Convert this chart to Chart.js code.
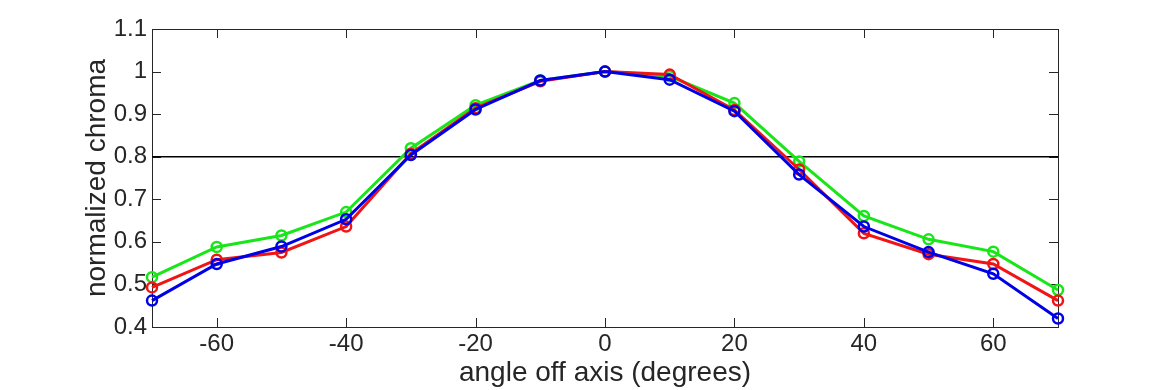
<!DOCTYPE html>
<html>
<head>
<meta charset="utf-8">
<script src="https://cdn.jsdelivr.net/npm/chart.js@4/dist/chart.umd.min.js"></script>
<style>
  html, body { margin: 0; padding: 0; background: #fff; }
  #wrap { width: 1170px; height: 390px; }
</style>
</head>
<body>
<div id="wrap"><canvas id="c" width="1170" height="390"></canvas></div>
<script>
const angles = [-70, -60, -50, -40, -30, -20, -10, 0, 10, 20, 30, 40, 50, 60, 70];
const redVals   = [0.493, 0.558, 0.575, 0.636, 0.807, 0.914, 0.977, 1.0, 0.993, 0.910, 0.770, 0.620, 0.571, 0.548, 0.462];
const greenVals = [0.517, 0.588, 0.615, 0.670, 0.820, 0.921, 0.979, 1.0, 0.989, 0.926, 0.789, 0.661, 0.606, 0.577, 0.487];
const blueVals  = [0.462, 0.548, 0.589, 0.653, 0.804, 0.911, 0.979, 1.0, 0.981, 0.907, 0.758, 0.636, 0.576, 0.525, 0.420];
const threshold = 0.8;
const xTicks = [-60, -40, -20, 0, 20, 40, 60];
const yTicks = [0.4, 0.5, 0.6, 0.7, 0.8, 0.9, 1, 1.1];

const FONT = "'Liberation Sans', Arial, Helvetica, sans-serif";
const TXT = "#262626";

function series(vals, color) {
  return {
    data: angles.map((a, i) => ({ x: a, y: vals[i] })),
    borderColor: color,
    backgroundColor: "rgba(0,0,0,0)",
    borderWidth: 3,
    pointRadius: 5,
    pointBorderWidth: 2.5,
    pointBorderColor: color,
    pointBackgroundColor: "rgba(0,0,0,0)",
    tension: 0,
    clip: false
  };
}

// MATLAB-style box with inward ticks
const boxPlugin = {
  id: "box",
  beforeDatasetsDraw(chart) {
    const { ctx, chartArea: a, scales } = chart;
    ctx.save();
    ctx.strokeStyle = "#262626";
    ctx.lineWidth = 1;
    ctx.strokeRect(Math.round(a.left) + 0.5, Math.round(a.top) + 0.5,
      Math.round(a.right - a.left), Math.round(a.bottom - a.top));
    const len = 9;
    ctx.beginPath();
    xTicks.forEach(v => {
      const px = Math.round(scales.x.getPixelForValue(v)) + 0.5;
      ctx.moveTo(px, a.bottom); ctx.lineTo(px, a.bottom - len);
      ctx.moveTo(px, a.top); ctx.lineTo(px, a.top + len);
    });
    yTicks.forEach(v => {
      const py = Math.round(scales.y.getPixelForValue(v)) + 0.5;
      ctx.moveTo(a.left, py); ctx.lineTo(a.left + len, py);
      ctx.moveTo(a.right, py); ctx.lineTo(a.right - len, py);
    });
    ctx.stroke();
    ctx.restore();
  }
};

new Chart(document.getElementById("c"), {
  type: "line",
  data: {
    datasets: [
      series(blueVals, "#0000e6"),
      series(redVals, "#f01414"),
      series(greenVals, "#19e619"),
      {
        data: [{ x: -70, y: threshold }, { x: 70, y: threshold }],
        borderColor: "#000",
        borderWidth: 1.5,
        pointRadius: 0,
        tension: 0
      }
    ]
  },
  options: {
    responsive: false,
    animation: false,
    events: [],
    layout: { padding: { top: 29, right: 112, left: 0, bottom: 0 } },
    plugins: { legend: { display: false }, tooltip: { enabled: false } },
    scales: {
      x: {
        type: "linear",
        min: -70, max: 70,
        afterBuildTicks: s => { s.ticks = xTicks.map(v => ({ value: v })); },
        afterFit: s => { s.height = 63; },
        grid: { display: false, drawTicks: false },
        border: { display: false },
        ticks: { color: TXT, font: { family: FONT, size: 24 }, padding: 3, callback: v => String(v), maxRotation: 0 },
        title: { display: true, text: "angle off axis (degrees)", color: TXT, font: { family: FONT, size: 28 }, padding: { top: 0, bottom: 0 } }
      },
      y: {
        min: 0.4, max: 1.1,
        afterBuildTicks: s => { s.ticks = yTicks.map(v => ({ value: v })); },
        afterFit: s => { s.width = 152; },
        grid: { display: false, drawTicks: false },
        border: { display: false },
        ticks: { color: TXT, font: { family: FONT, size: 24 }, padding: 5, callback: v => String(Math.round(v * 10) / 10) },
        title: { display: true, text: "normalized chroma", color: TXT, font: { family: FONT, size: 28 }, padding: { top: 80, bottom: 0 } }
      }
    }
  },
  plugins: [boxPlugin]
});
</script>
</body>
</html>
